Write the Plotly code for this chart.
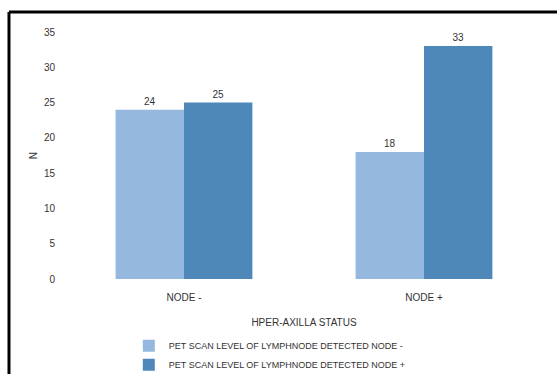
import plotly.graph_objects as go

categories = ["NODE -", "NODE +"]
series_names = ["PET SCAN LEVEL OF LYMPHNODE DETECTED NODE -",
                "PET SCAN LEVEL OF LYMPHNODE DETECTED NODE +"]
series_values = [[24, 18], [25, 33]]
y_ticks = [0, 5, 10, 15, 20, 25, 30, 35]
colors = ["#95b8df", "#4e88bb"]

fig = go.Figure()
for name, vals, c in zip(series_names, series_values, colors):
    fig.add_trace(go.Bar(
        x=categories, y=vals, name=name,
        marker=dict(color=c, line=dict(width=0)),
        text=vals, textposition="outside", cliponaxis=False,
        textfont=dict(size=10, color="#333333"),
    ))

font_family = "Liberation Sans Narrow, Liberation Sans, Arial"
fig.update_layout(
    width=557, height=374,
    margin=dict(l=64, r=13, t=32, b=95, autoexpand=False),
    paper_bgcolor="white", plot_bgcolor="white",
    barmode="group", bargap=0.43, bargroupgap=0,
    font=dict(family=font_family, size=10, color="#333333"),
    xaxis=dict(showgrid=False, showline=False, zeroline=False, ticks="",
               tickfont=dict(size=10, color="#333333"), automargin=False,
               ticklabelstandoff=11,
               title=dict(text="HPER-AXILLA STATUS", font=dict(size=10, color="#333333"), standoff=16)),
    yaxis=dict(range=[0, 35], tickvals=y_ticks, showgrid=False, showline=False,
               zeroline=False, ticks="", ticklabelstandoff=8, automargin=False,
               tickfont=dict(size=10, color="#333333"),
               title=dict(text="N", font=dict(size=10, color="#333333"), standoff=4)),
    legend=dict(orientation="v", x=0.135, y=-0.212, xanchor="left", yanchor="top",
                font=dict(size=9, color="#333333"), tracegroupgap=0, itemwidth=30,
                bgcolor="rgba(0,0,0,0)"),
    showlegend=True,
)
# frame: top and left edges (right and bottom lie outside the picture)
fig.add_shape(type="line", xref="paper", yref="paper",
              x0=-0.1146, x1=1.027, y0=1.081, y1=1.081,
              line=dict(color="black", width=3), layer="above")
fig.add_shape(type="line", xref="paper", yref="paper",
              x0=-0.1146, x1=-0.1146, y0=-0.385, y1=1.081,
              line=dict(color="black", width=3), layer="above")

fig.write_html("out.html")
